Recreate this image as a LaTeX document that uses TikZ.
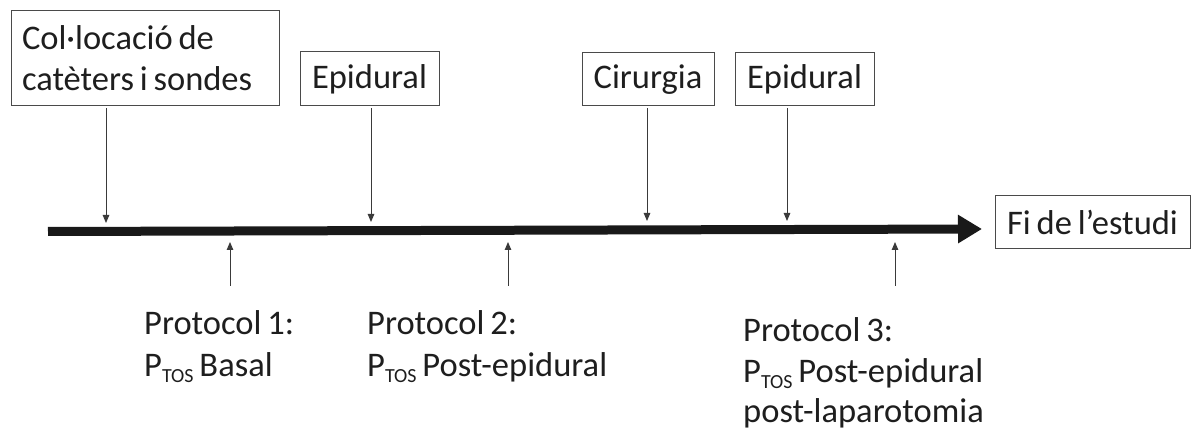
\documentclass[tikz,border=0pt]{standalone}
\usepackage{fontspec}
\setmainfont[WordSpace=0.75]{Carlito}
\usetikzlibrary{arrows.meta}
\definecolor{txt}{HTML}{1E1E1E}
\definecolor{edge}{HTML}{4A4A4A}
\definecolor{thin}{HTML}{3A3A3A}
\newcommand{\ptos}{P\raisebox{-6pt}{\fontsize{20}{20}\selectfont TOS}}
\begin{document}
\begin{tikzpicture}[x=1pt,y=-1pt,
  every node/.style={font=\fontsize{34.5}{41}\selectfont, text=txt},
  evbox/.style={draw=edge, line width=1pt, inner sep=0pt, align=center},
  lbl/.style={anchor=base west, inner sep=0pt},
  thinarrow/.style={draw=thin, line width=1pt, -{Triangle[length=8pt,width=6.5pt]}},
  mainarrow/.style={draw=black!90, line width=9pt, -{Triangle[length=24pt,width=27pt]}}]
\useasboundingbox (0,0) rectangle (1192,430);

% boxes
\node[evbox, minimum width=268pt, minimum height=95pt, text width=246pt, align=flush left] (b1) at (145,58.5)
  {Col·locació de\\catèters i sondes};
\node[evbox, minimum width=139pt, minimum height=54pt] (b2) at (369.5,79) {Epidural};
\node[evbox, minimum width=132pt, minimum height=53pt] (b3) at (648,79.5) {Cirurgia};
\node[evbox, minimum width=139pt, minimum height=53pt] (b4) at (804.5,79.5) {Epidural};
\node[evbox, minimum width=195pt, minimum height=53pt] (b5) at (1092.5,222.5) {Fi de l’estudi};

% main timeline
\coordinate (start) at (48,231.5);
\coordinate (tip) at (982,229);
\draw[mainarrow] (start) -- (tip);

% down arrows
\coordinate (d1) at (106,223);
\coordinate (d2) at (371,222);
\coordinate (d3) at (647,221);
\coordinate (d4) at (787,221);
\draw[thinarrow, shorten <=2pt] (b1.south -| d1) -- (d1);
\draw[thinarrow, shorten <=2pt] (b2.south -| d2) -- (d2);
\draw[thinarrow, shorten <=2pt] (b3.south -| d3) -- (d3);
\draw[thinarrow, shorten <=2pt] (b4.south -| d4) -- (d4);

% protocol labels
\node[lbl] (p1a) at (144,335) {Protocol 1:};
\node[lbl] (p1b) at (144,377) {\ptos\ Basal};
\node[lbl] (p2a) at (367,335) {Protocol 2:};
\node[lbl] (p2b) at (367,377) {\ptos\ Post-epidural};
\node[lbl] (p3a) at (743,342) {Protocol 3:};
\node[lbl] (p3b) at (743,382) {\ptos\ Post-epidural};
\node[lbl] (p3c) at (743,422) {post-laparotomia};

% up arrows
\coordinate (u1) at (230,242);
\coordinate (u2) at (508,242);
\coordinate (u3) at (895,242);
\draw[thinarrow] (p1a.north -| u1) ++(0,-25) -- (u1);
\draw[thinarrow] (p2a.north -| u2) ++(0,-25) -- (u2);
\draw[thinarrow] (p3a.north -| u3) ++(0,-32) -- (u3);
\end{tikzpicture}
\end{document}
